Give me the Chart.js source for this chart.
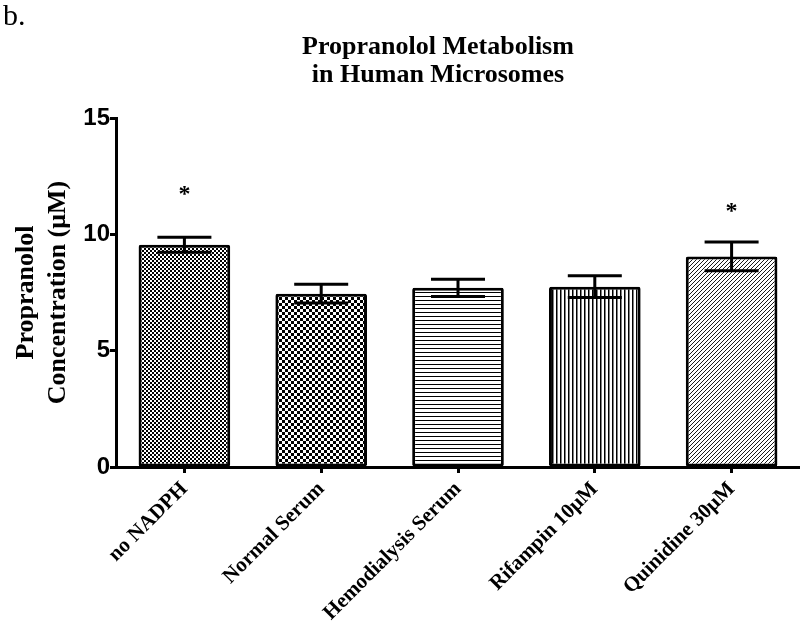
<!DOCTYPE html>
<html>
<head>
<meta charset="utf-8">
<script src="https://cdn.jsdelivr.net/npm/chart.js@4.4.1/dist/chart.umd.min.js"></script>
<style>
  html, body { margin: 0; padding: 0; background: #fff; }
  #wrap { position: relative; width: 800px; height: 626px; }
  #panel { position: absolute; left: 3px; top: -2px; font-family: "Liberation Serif", "Times New Roman", serif; font-size: 30px; color: #000; }
</style>
</head>
<body>
<div id="wrap">
  <canvas id="chart" width="800" height="626"></canvas>
  <div id="panel">b.</div>
</div>
<script>
// Datos
const categories = ['no NADPH', 'Normal Serum', 'Hemodialysis Serum', 'Rifampin 10μM', 'Quinidine 30μM'];
const means = [9.55, 7.45, 7.7, 7.75, 9.05];
const sems = [0.32, 0.4, 0.37, 0.47, 0.62];
const starValues = [11.9, null, null, null, 11.2];
const yTicks = [0, 5, 10, 15];
const patternTypes = ['fineCheck', 'check', 'hlines', 'vlines', 'diag'];

// Tramas de relleno tipo GraphPad
function makePattern(type) {
  const c = document.createElement('canvas');
  const g = c.getContext('2d');
  let s = 4;
  if (type === 'check') s = 6;
  c.width = s; c.height = s;
  g.fillStyle = '#fff';
  g.fillRect(0, 0, s, s);
  g.fillStyle = '#000';
  g.strokeStyle = '#000';
  if (type === 'fineCheck') {
    g.fillRect(0, 0, 2, 2); g.fillRect(2, 2, 2, 2);
  } else if (type === 'check') {
    g.fillRect(0, 0, 3, 3); g.fillRect(3, 3, 3, 3);
  } else if (type === 'hlines') {
    g.fillRect(0, 0, s, 1);
  } else if (type === 'vlines') {
    g.fillRect(0, 0, 1.5, s);
  } else if (type === 'diag') {
    g.lineWidth = 0.9;
    g.beginPath();
    g.moveTo(0, s); g.lineTo(s, 0);
    g.moveTo(-1, 1); g.lineTo(1, -1);
    g.moveTo(s - 1, s + 1); g.lineTo(s + 1, s - 1);
    g.stroke();
  }
  return g.createPattern(c, 'repeat');
}

const errorBars = {
  id: 'errorBars',
  afterDatasetsDraw(chart) {
    const ctx = chart.ctx;
    const y = chart.scales.y;
    const meta = chart.getDatasetMeta(0);
    ctx.save();
    ctx.strokeStyle = '#000';
    ctx.lineWidth = 3;
    meta.data.forEach((bar, i) => {
      const x = bar.x;
      const top = y.getPixelForValue(means[i] + sems[i]);
      const bot = y.getPixelForValue(means[i] - sems[i]);
      const half = 27;
      ctx.beginPath();
      ctx.moveTo(x, top); ctx.lineTo(x, bot);
      ctx.moveTo(x - half, top); ctx.lineTo(x + half, top);
      ctx.moveTo(x - half, bot); ctx.lineTo(x + half, bot);
      ctx.stroke();
      if (starValues[i] !== null) {
        ctx.fillStyle = '#000';
        ctx.font = 'bold 24px "Liberation Serif"';
        ctx.textAlign = 'center';
        ctx.textBaseline = 'middle';
        ctx.fillText('*', x, y.getPixelForValue(starValues[i]) + 5);
      }
    });
    ctx.restore();
  }
};

const titleText = {
  id: 'titleText',
  afterDraw(chart) {
    const ctx = chart.ctx;
    ctx.save();
    ctx.fillStyle = '#000';
    ctx.font = 'bold 26px "Liberation Serif"';
    ctx.textAlign = 'center';
    ctx.textBaseline = 'middle';
    ctx.fillText('Propranolol Metabolism', 438, 47);
    ctx.fillText('in Human Microsomes', 438, 75);
    ctx.restore();
  }
};

new Chart(document.getElementById('chart'), {
  type: 'bar',
  data: {
    labels: categories,
    datasets: [{
      data: means,
      backgroundColor: patternTypes.map(makePattern),
      borderColor: '#000',
      borderWidth: 3,
      borderSkipped: false,
      borderRadius: 2,
      barPercentage: 0.67,
      categoryPercentage: 1
    }]
  },
  options: {
    responsive: false,
    animation: false,
    layout: { padding: { top: 118, left: 0, right: 0, bottom: 0 } },
    plugins: { legend: { display: false }, tooltip: { enabled: false }, title: { display: false } },
    scales: {
      x: {
        grid: { display: true, drawOnChartArea: false, offset: false, tickLength: 6, tickWidth: 3, tickColor: '#000' },
        border: { color: '#000', width: 3 },
        ticks: {
          color: '#000',
          font: { family: 'Liberation Serif', weight: 'bold', size: 21 },
          maxRotation: 45, minRotation: 45, padding: 4, autoSkip: false
        },
        afterFit(scale) { scale.height = 159; }
      },
      y: {
        min: 0, max: 15,
        afterBuildTicks(scale) { scale.ticks = yTicks.map(v => ({ value: v })); },
        grid: { display: true, drawOnChartArea: false, tickLength: 6, tickWidth: 3, tickColor: '#000' },
        border: { color: '#000', width: 3 },
        ticks: { color: '#000', font: { family: 'Liberation Sans', weight: 'bold', size: 24 }, padding: 0 },
        title: {
          display: true,
          text: ['Propranolol', 'Concentration (μM)'],
          color: '#000',
          font: { family: 'Liberation Serif', weight: 'bold', size: 26 },
          padding: { top: 11, bottom: 0 }
        },
        afterFit(scale) { scale.width = 116; }
      }
    }
  },
  plugins: [errorBars, titleText]
});
</script>
</body>
</html>
